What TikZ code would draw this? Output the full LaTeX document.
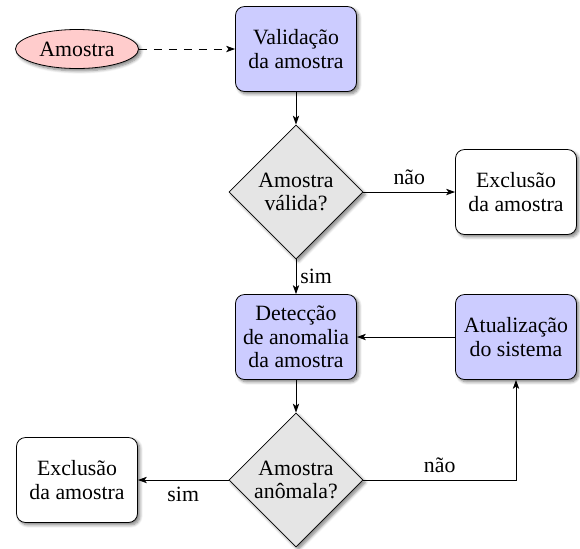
\documentclass[tikz,border=0pt]{standalone}
\usepackage{fontspec}
\setmainfont{Liberation Serif}
\usetikzlibrary{shapes.geometric,arrows.meta,shadows.blur}
\begin{document}
\begin{tikzpicture}[x=0.5pt,y=-0.5pt,
  font=\fontsize{10.9}{11.8}\selectfont,
  shd/.style={blur shadow={shadow xshift=1.2pt,shadow yshift=-1.2pt,shadow blur steps=6,shadow blur radius=1.5pt,shadow opacity=50}},
  box/.style={draw,rounded corners=4.5pt,minimum width=60.5pt,minimum height=42.5pt,align=center,inner sep=2pt,shd},
  proc/.style={box,fill=blue!20},
  term/.style={box,fill=white},
  dec/.style={draw,diamond,aspect=1,minimum size=67pt,inner sep=0pt,align=center,fill=gray!20,shd},
  startnode/.style={draw,ellipse,minimum width=61.5pt,minimum height=19.5pt,inner sep=1pt,fill=red!20,shd},
  arr/.style={-{Stealth[length=4.5pt,width=3.2pt,inset=1.2pt]}},
  darr/.style={arr,dash pattern=on 4pt off 3.5pt}]
\useasboundingbox (0,0) rectangle (580,548);
\node[startnode] (amostra) at (77,49) {Amostra};
\node[proc] (valid) at (296,49) {Validação\\da amostra};
\node[dec] (d1) at (296,192) {Amostra\\válida?};
\node[term] (exc1) at (516,192) {Exclusão\\da amostra};
\node[proc] (detec) at (296,337) {Detecção\\de anomalia\\da amostra};
\node[proc] (atual) at (516,337) {Atualização\\do sistema};
\node[dec] (d2) at (296,480) {Amostra\\anômala?};
\node[term] (exc2) at (77,480) {Exclusão\\da amostra};
\draw[darr] (amostra) -- (valid);
\draw[arr] (valid) -- (d1);
\draw[arr] (d1) -- node[above] {não} (exc1);
\draw[arr] (d1) -- node[right,inner sep=2pt] {sim} (detec);
\draw[arr] (atual) -- (detec);
\draw[arr] (detec) -- (d2);
\draw[arr] (d2) -- node[below] {sim} (exc2);
\draw[arr] (d2) -| node[pos=0.25,above] {não} (atual);
\end{tikzpicture}
\end{document}
